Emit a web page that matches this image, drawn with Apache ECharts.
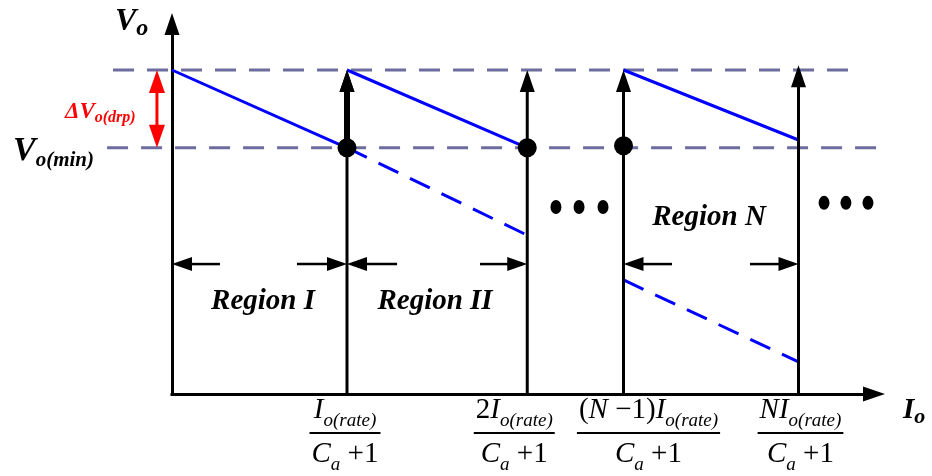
<!DOCTYPE html>
<html>
<head>
<meta charset="utf-8">
<script src="https://cdn.jsdelivr.net/npm/echarts@6/dist/echarts.min.js"></script>
<style>
  html, body { margin: 0; padding: 0; background: #fff; }
  #chart { width: 932px; height: 476px; }
</style>
</head>
<body>
<div id="chart"></div>
<script>
// Output voltage Vo against load current Io, split into regions by the
// current at which another phase is switched in: k·Io(rate)/(Ca+1).

// ---- data (x in Io units, y in Vo units) ----
const regionBounds   = [1.0, 2.03, 2.58, 3.58];
const boundaryTops   = [1.0, 1.0, 1.0, 1.015];
const vMax = 1.0;
const vMin = 0.76;
const droopSolid = [
  [[0, 1.0], [1.0, 0.76]],
  [[1.0, 1.0], [2.03, 0.76]],
  [[2.58, 1.0], [3.58, 0.784]]
];
const droopDashed = [
  [[1.0, 0.76], [2.03, 0.49]],
  [[2.58, 0.352], [3.58, 0.099]]
];
const switchPoints  = [[1.0, 0.76], [2.03, 0.76], [2.58, 0.766]];
const refLines      = [
  [[-0.337, 1.0], [3.886, 1.0]],
  [[-0.371, 0.76], [4.091, 0.76]]
];
const regionArrowLevel = 0.401;
const regionArrows  = [[0.274, 0], [0.714, 1.0], [1.286, 1.0], [1.76, 2.03], [2.857, 2.58], [3.303, 3.58]];
const regionNames   = ['Region I', 'Region II', 'Region N'];
const regionNameAt  = [[0.52, 0.256], [1.503, 0.256], [3.069, 0.515]];
const ellipsisDots  = [[2.194, 0.577], [2.326, 0.577], [2.463, 0.577], [3.726, 0.59], [3.851, 0.59], [3.977, 0.59]];
const dropMarkerX   = -0.086;
const tickNumerators  = ['I_o(rate)', '2I_o(rate)', '(N \u22121)I_o(rate)', 'NI_o(rate)'];
const tickDenominator = 'C_a +1';
const titleVo    = 'V_o';
const titleIo    = 'I_o';
const titleVmin  = 'V_o(min)';
const titleDrop  = '\u0394V_o(drp)';

// ---- layout ----
const X_MAX = 702 / 175;
const Y_MAX = 370 / 324;
const FAM = '"Liberation Serif", "Times New Roman", serif';
const BLUE = '#0000ff';
const REF = '#6c6c9e';
const labelShift = [-2, -13, 25, 2];

const mctx = document.createElement('canvas').getContext('2d');
function fontOf(size, italic, bold) {
  return (italic ? 'italic ' : 'normal ') + (bold ? 'bold ' : 'normal ') + size + 'px ' + FAM;
}
// split "2I_o(rate)" into upright / variable / subscript pieces
function tokenize(str) {
  const out = [];
  const re = /_([a-z()]+)|([A-Za-z])|([^A-Za-z_]+)/g;
  let m;
  while ((m = re.exec(str))) {
    if (m[1]) out.push({ t: m[1], sub: true });
    else if (m[2]) out.push({ t: m[2], v: true });
    else out.push({ t: m[3] });
  }
  return out;
}
function layoutRow(str, o) {
  const toks = tokenize(str).map(tk => {
    const size = tk.sub ? o.subSize : o.size;
    const italic = o.italicAll || tk.sub || tk.v;
    const font = fontOf(size, italic, o.bold);
    mctx.font = font;
    return { text: tk.t, font, size, dy: tk.sub ? o.subDy : 0, w: mctx.measureText(tk.t).width };
  });
  return { toks, width: toks.reduce((s, t) => s + t.w, 0) };
}
function rowElements(row, left, baseY, color) {
  let x = left;
  return row.toks.map(t => {
    const el = {
      type: 'text', x: x, y: baseY + t.dy - 0.3375 * t.size,
      style: { text: t.text, font: t.font, fill: color, align: 'left', verticalAlign: 'middle',
               textAlign: 'left', textVerticalAlign: 'middle' }
    };
    x += t.w;
    return el;
  });
}

// arrow = shaft + filled triangular head(s), placed through the axes
function arrowRenderer(headL, headW, width, color, both) {
  return function (params, api) {
    const a = api.coord([api.value(0), api.value(1)]);
    const b = api.coord([api.value(2), api.value(3)]);
    const dx = b[0] - a[0], dy = b[1] - a[1];
    const len = Math.hypot(dx, dy), ux = dx / len, uy = dy / len;
    const head = (tip, vx, vy) => ({
      type: 'polygon',
      shape: { points: [
        [tip[0], tip[1]],
        [tip[0] - vx * headL - vy * headW / 2, tip[1] - vy * headL + vx * headW / 2],
        [tip[0] - vx * headL + vy * headW / 2, tip[1] - vy * headL - vx * headW / 2]
      ] },
      style: { fill: color }
    });
    const s = both ? [a[0] + ux * headL * 0.9, a[1] + uy * headL * 0.9] : a;
    const e = [b[0] - ux * headL * 0.9, b[1] - uy * headL * 0.9];
    const children = [
      { type: 'line', shape: { x1: s[0], y1: s[1], x2: e[0], y2: e[1] },
        style: { stroke: color, lineWidth: width } },
      head(b, ux, uy)
    ];
    if (both) children.push(head(a, -ux, -uy));
    return { type: 'group', children };
  };
}

// dashed reference levels, allowed to run past the plot edges
function renderRefLine(params, api) {
  const a = api.coord([api.value(0), api.value(1)]);
  const b = api.coord([api.value(2), api.value(3)]);
  return {
    type: 'line', shape: { x1: a[0], y1: a[1], x2: b[0], y2: b[1] },
    style: { stroke: REF, lineWidth: 3, lineDash: [21, 13] }
  };
}

const tickOpt = { size: 29, subSize: 19, subDy: 7, bold: false, italicAll: false };
function renderTick(params, api) {
  const i = params.dataIndex;
  const p = api.coord([api.value(0), api.value(1)]);
  const cx = p[0] + labelShift[i];
  const num = layoutRow(tickNumerators[i], tickOpt);
  const den = layoutRow(tickDenominator, tickOpt);
  const w = Math.max(num.width, den.width) + 4;
  const children = []
    .concat(rowElements(num, cx - num.width / 2, p[1] + 26, '#000'))
    .concat(rowElements(den, cx - den.width / 2, p[1] + 70, '#000'));
  children.push({ type: 'line', shape: { x1: cx - w / 2, y1: p[1] + 39, x2: cx + w / 2, y2: p[1] + 39 },
                  style: { stroke: '#000', lineWidth: 2 } });
  return { type: 'group', children };
}

const titles = [
  { str: titleVo,   at: [0, Y_MAX],              dx: -57,  dy: 9,  color: '#000', opt: { size: 32, subSize: 24, subDy: 4 } },
  { str: titleVmin, at: [0, vMin],               dx: -159, dy: 15, color: '#000', opt: { size: 34, subSize: 21, subDy: 5 } },
  { str: titleDrop, at: [0, (vMax + vMin) / 2],  dx: -107, dy: 11, color: '#ff0000', opt: { size: 23, subSize: 16, subDy: 3 } },
  { str: titleIo,   at: [X_MAX, 0],              dx: 29,   dy: 26, color: '#000', opt: { size: 29, subSize: 22, subDy: 5 } }
];
function renderTitle(params, api) {
  const t = titles[params.dataIndex];
  const p = api.coord([api.value(0), api.value(1)]);
  const row = layoutRow(t.str, Object.assign({ bold: true, italicAll: true }, t.opt));
  return { type: 'group', children: rowElements(row, p[0] + t.dx, p[1] + t.dy, t.color) };
}
function renderRegionName(params, api) {
  const p = api.coord([api.value(0), api.value(1)]);
  return {
    type: 'text', x: p[0], y: p[1] - 0.3375 * 29,
    style: { text: regionNames[params.dataIndex], font: fontOf(29, true, true), fill: '#000',
             align: 'center', verticalAlign: 'middle', textAlign: 'center', textVerticalAlign: 'middle' }
  };
}

const axisCommon = {
  type: 'value',
  axisTick: { show: false },
  axisLabel: { show: false },
  splitLine: { show: false },
  axisLine: { show: true, symbol: ['none', 'triangle'], symbolSize: [15, 22],
              lineStyle: { color: '#000', width: 3, cap: 'square' } }
};

const series = [];
series.push({
  type: 'custom', z: 1, silent: true, clip: false, renderItem: renderRefLine,
  data: refLines.map(([a, b]) => [a[0], a[1], b[0], b[1]])
});
droopSolid.forEach(d => series.push({
  type: 'line', data: d, symbol: 'none', clip: false, silent: true, z: 2,
  lineStyle: { color: BLUE, width: 3 }
}));
droopDashed.forEach(d => series.push({
  type: 'line', data: d, symbol: 'none', clip: false, silent: true, z: 2,
  lineStyle: { color: BLUE, width: 3, type: [22, 13] }
}));
series.push({
  type: 'custom', z: 3, silent: true, clip: false,
  renderItem: arrowRenderer(22, 15, 3, '#000', false),
  data: regionBounds.map((x, i) => [x, 0, x, boundaryTops[i]])
});
series.push({
  type: 'custom', z: 3, silent: true, clip: false,
  renderItem: arrowRenderer(22, 15, 6, '#000', false),
  data: [[regionBounds[0], vMin, regionBounds[0], vMax]]
});
series.push({
  type: 'custom', z: 3, silent: true, clip: false,
  renderItem: arrowRenderer(20, 14, 2.5, '#000', false),
  data: regionArrows.map(([f, t]) => [f, regionArrowLevel, t, regionArrowLevel])
});
series.push({
  type: 'custom', z: 3, silent: true, clip: false,
  renderItem: arrowRenderer(23, 16, 3, '#ff0000', true),
  data: [[dropMarkerX, vMin, dropMarkerX, vMax]]
});
series.push({
  type: 'scatter', z: 4, silent: true, symbol: 'circle', symbolSize: 19,
  itemStyle: { color: '#000', opacity: 1 }, data: switchPoints
});
series.push({
  type: 'scatter', z: 4, silent: true, symbol: 'circle', symbolSize: [11, 14],
  itemStyle: { color: '#000', opacity: 1 }, data: ellipsisDots
});
series.push({
  type: 'custom', z: 5, silent: true, clip: false, renderItem: renderTick,
  data: regionBounds.map(x => [x, 0])
});
series.push({
  type: 'custom', z: 5, silent: true, clip: false, renderItem: renderTitle,
  data: titles.map(t => t.at)
});
series.push({
  type: 'custom', z: 5, silent: true, clip: false, renderItem: renderRegionName,
  data: regionNameAt
});

const chart = echarts.init(document.getElementById('chart'), null, { renderer: 'canvas' });
chart.setOption({
  animation: false,
  backgroundColor: '#fff',
  grid: { left: 172, right: 58, top: 24, bottom: 82 },
  xAxis: Object.assign({}, axisCommon, { min: 0, max: X_MAX }),
  yAxis: Object.assign({}, axisCommon, { min: 0, max: Y_MAX }),
  series: series
});
</script>
</body>
</html>
